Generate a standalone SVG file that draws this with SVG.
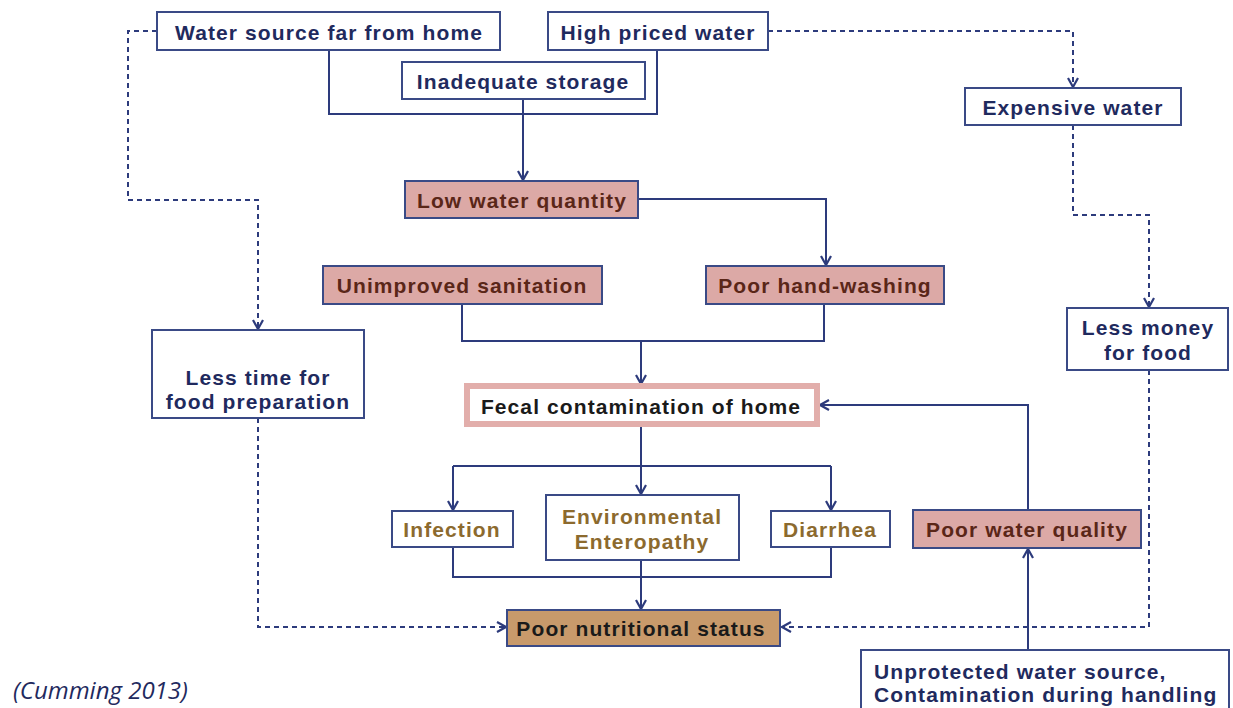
<svg xmlns="http://www.w3.org/2000/svg" width="1233" height="708" viewBox="0 0 1233 708">
<style>
.box{fill:#fff;stroke:#3a4a86;stroke-width:2}
.pink{fill:#dca9a6;stroke:#3a4a86;stroke-width:2}
.tan{fill:#c89a6b;stroke:#3a4a86;stroke-width:2}
.t{font-family:"Liberation Sans",Arial,sans-serif;font-weight:bold;font-size:21px;letter-spacing:1.1px;fill:#1f2a5e;text-anchor:middle;dominant-baseline:central}
.tp{fill:#5a2618}
.tt{fill:#8c6a2e}
.tk{fill:#1a1a1a}
.ln{fill:none;stroke:#2d3b7c;stroke-width:2}
.dl{fill:none;stroke:#2d3b7c;stroke-width:2;stroke-dasharray:5 4}
</style>
<defs>
<marker id="ah" viewBox="0 0 12 12" refX="11" refY="6" markerWidth="12" markerHeight="12" markerUnits="userSpaceOnUse" orient="auto">
<path d="M2,1 L11,6 L2,11" fill="none" stroke="#2d3b7c" stroke-width="2.2"/>
</marker>
</defs>
<rect width="1233" height="708" fill="#fff"/>
<g id="connectors">
<path class="ln" d="M329,50 V114 H657 V50"/>
<path class="ln" d="M523,99 V180" marker-end="url(#ah)"/>
<path class="ln" d="M638,199 H826 V265" marker-end="url(#ah)"/>
<path class="ln" d="M462,304 V341 H824 V304"/>
<path class="ln" d="M641,341 V384" marker-end="url(#ah)"/>
<path class="ln" d="M1028,510 V405 H820" marker-end="url(#ah)"/>
<path class="ln" d="M1028,650 V549" marker-end="url(#ah)"/>
<path class="ln" d="M641,426 V466"/>
<path class="ln" d="M453,466 H831"/>
<path class="ln" d="M453,466 V510" marker-end="url(#ah)"/>
<path class="ln" d="M641,466 V494" marker-end="url(#ah)"/>
<path class="ln" d="M831,466 V510" marker-end="url(#ah)"/>
<path class="ln" d="M453,547 V577 H831 V547"/>
<path class="ln" d="M641,560 V609" marker-end="url(#ah)"/>
<path class="dl" d="M157,31 H128 V200 H258 V329" marker-end="url(#ah)"/>
<path class="dl" d="M258,418 V627 H506" marker-end="url(#ah)"/>
<path class="dl" d="M768,31 H1073 V87" marker-end="url(#ah)"/>
<path class="dl" d="M1073,125 V215 H1149 V307" marker-end="url(#ah)"/>
<path class="dl" d="M1149,370 V627 H782" marker-end="url(#ah)"/>
</g>
<g id="n-water-source"><rect class="box" x="157" y="12" width="343" height="38"/><text class="t" x="329" y="32">Water source far from home</text></g>
<g id="n-high-priced"><rect class="box" x="548" y="12" width="220" height="38"/><text class="t" x="658" y="32">High priced water</text></g>
<g id="n-storage"><rect class="box" x="402" y="62" width="243" height="37"/><text class="t" x="523" y="81">Inadequate storage</text></g>
<g id="n-expensive"><rect class="box" x="965" y="88" width="216" height="37"/><text class="t" x="1073" y="107">Expensive water</text></g>
<g id="n-low-quantity"><rect class="pink" x="405" y="181" width="233" height="37"/><text class="t tp" x="522" y="200">Low water quantity</text></g>
<g id="n-sanitation"><rect class="pink" x="323" y="266" width="279" height="38"/><text class="t tp" x="462" y="285">Unimproved sanitation</text></g>
<g id="n-handwashing"><rect class="pink" x="706" y="266" width="238" height="38"/><text class="t tp" x="825" y="285">Poor hand-washing</text></g>
<g id="n-less-money"><rect class="box" x="1067" y="308" width="161" height="62"/><text class="t" x="1148" y="327">Less money</text><text class="t" x="1148" y="352">for food</text></g>
<g id="n-less-time"><rect class="box" x="152" y="330" width="212" height="88"/><text class="t" x="258" y="377">Less time for</text><text class="t" x="258" y="401">food preparation</text></g>
<g id="n-fecal"><rect x="467" y="386" width="350" height="38" fill="#fff" stroke="#e2aeab" stroke-width="6"/><text class="t tk" x="641" y="406">Fecal contamination of home</text></g>
<g id="n-infection"><rect class="box" x="392" y="511" width="121" height="36"/><text class="t tt" x="452" y="529">Infection</text></g>
<g id="n-enteropathy"><rect class="box" x="546" y="495" width="193" height="65"/><text class="t tt" x="642" y="516">Environmental</text><text class="t tt" x="642" y="541">Enteropathy</text></g>
<g id="n-diarrhea"><rect class="box" x="771" y="511" width="119" height="36"/><text class="t tt" x="830" y="529">Diarrhea</text></g>
<g id="n-water-quality"><rect class="pink" x="913" y="510" width="228" height="38"/><text class="t tp" x="1027" y="529">Poor water quality</text></g>
<g id="n-nutrition"><rect class="tan" x="507" y="610" width="273" height="36"/><text class="t tk" x="641" y="628">Poor nutritional status</text></g>
<g id="n-unprotected"><rect class="box" x="861" y="650" width="368" height="70"/><text class="t" x="874" y="671" style="text-anchor:start">Unprotected water source,</text><text class="t" x="874" y="694" style="text-anchor:start">Contamination during handling</text></g>
<text x="13" y="699" font-family="'Open Sans','Liberation Sans',sans-serif" font-style="italic" font-size="24" fill="#1f2a5e">(Cumming 2013)</text>
</svg>
